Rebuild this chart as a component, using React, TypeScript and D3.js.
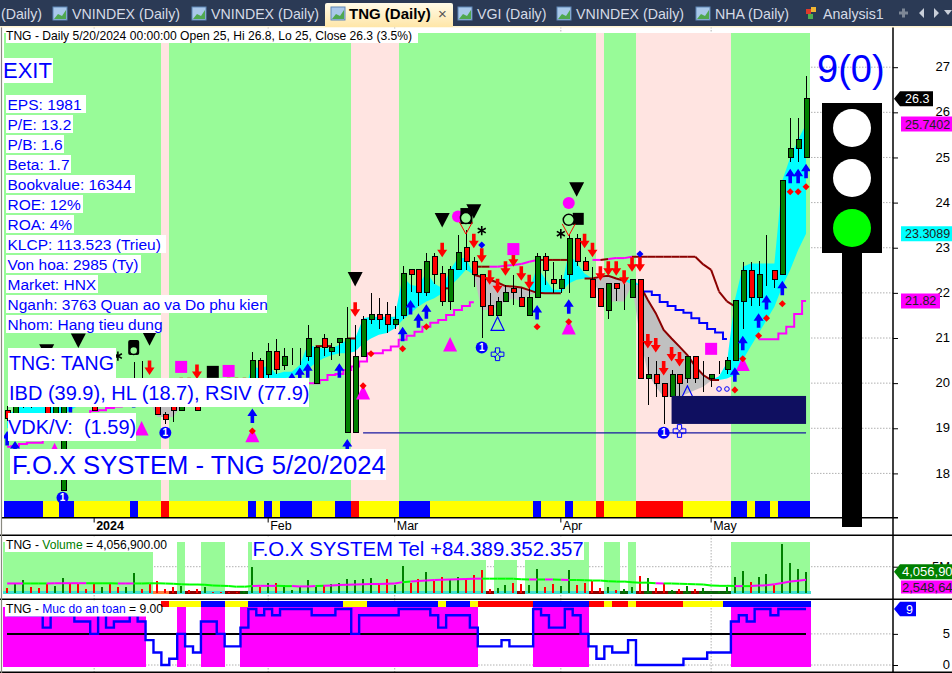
import React, { useEffect, useRef } from 'react';
import * as d3 from 'd3';

const WIDTH = 952;
const HEIGHT = 673;
const BAR_COUNT = 102;

// candles. the ones under the white labels are estimates
const opens = [
  19.4, 19.33, 19.7, 19.9, 19.9, 20.14, 19.33, 17.63, 19.8, 20,
  20.1, 20.14, 19.6, 20.14, 20, 19.7, 19.8, 20, 20, 19.9,
  19.3, 19.48, 19.39, 19.9, 19.6, 19.6, 19.9, 19.8, 19.8, 19.8,
  19.7, 20, 20.5, 20.2, 20.7, 20.4, 20.6, 20.6, 20.6, 20,
  20.99, 20.7, 20.9, 18.9, 18.9, 20.59, 21.41, 21.51, 21.51, 21.3,
  21.49, 22.51, 22.51, 22, 22.81, 22.42, 21.8, 22.51, 23.01, 22.7,
  22.4, 21.71, 21.5, 21.81, 22.1, 21.9, 21.5, 21.9, 22.81, 22.3,
  22.1, 22.4, 23.2, 22.7, 22.3, 22.1, 21.62, 22.21, 21.9, 21.9,
  22.3, 20.1, 20.2, 20, 19.7, 20.2, 20.1, 20.6, 20.1, 20.1,
  20.2, 20.3, 20.5, 21.8, 22.49, 21.9, 22.5, 22.49, 22.4, 25, 25.2, 25,
];
const highs = [
  19.5, 19.7, 20, 20, 20, 20.2, 19.9, 19.9, 20, 20.1,
  20.2, 20.2, 20, 20.2, 20.1, 20.1, 20.46, 20.5, 20.1, 20,
  19.35, 19.7, 19.8, 20, 19.8, 20, 20, 20, 20.1, 20.1,
  20, 20.68, 20.55, 20.9, 20.97, 20.78, 20.78, 20.78, 21.28, 20.83,
  21.09, 20.88, 20.99, 21.68, 21.29, 21.49, 21.99, 21.88, 21.79, 21.7,
  22.6, 22.51, 22.51, 22.88, 22.88, 22.6, 22.6, 23.28, 23.4, 22.79,
  22.4, 21.99, 21.9, 22.18, 22.39, 22.1, 22.1, 22.88, 22.88, 22.69,
  22.4, 23.3, 23.3, 22.79, 22.58, 22.1, 22.21, 22.21, 22.2, 22.3,
  22.3, 20.59, 20.5, 20, 20.3, 20.2, 20.6, 20.6, 20.5, 20.2,
  20.5, 20.59, 21.82, 22.68, 22.68, 22.7, 23.28, 22.5, 24.5, 25.87, 25.87, 26.8,
];
const lows = [
  19.15, 19.2, 19.45, 19.45, 19.5, 19.33, 19.3, 17.63, 19.5, 19.7,
  19.7, 19.39, 19.5, 19.5, 19.6, 19.6, 19.6, 19.6, 19.55, 19.3,
  19.1, 19.13, 19.39, 19.5, 19.39, 19.55, 19.6, 19.6, 19.6, 19.6,
  19.6, 19.9, 19.95, 20.1, 20.2, 20.3, 20.4, 20.4, 20.5, 20,
  20.6, 20.51, 20.6, 18.9, 18.9, 20.59, 21.31, 21.2, 21.1, 21.2,
  21.43, 22.03, 21.71, 21.92, 22.2, 21.72, 21.62, 22.51, 22.5, 22.12,
  21, 21.5, 21.5, 21.81, 21.73, 21.7, 21.5, 21.9, 22.18, 22,
  22, 22, 22.6, 22.5, 21.9, 21.7, 21.42, 21.83, 21.62, 21.9,
  20.1, 19.52, 19.7, 19.1, 19.7, 19.7, 20, 20, 19.8, 19.92,
  20.2, 20.2, 20.5, 21.2, 21.71, 21.7, 22.15, 22.1, 22.4, 24.9, 24.9, 25,
];
const closes = [
  19.22, 19.48, 19.8, 19.7, 19.7, 19.33, 19.8, 19.6, 19.55, 19.8,
  19.9, 19.39, 19.9, 19.6, 19.8, 20, 20, 19.8, 19.7, 19.3,
  19.2, 19.39, 19.48, 19.7, 19.39, 19.9, 19.7, 19.7, 19.7, 19.7,
  19.9, 20.5, 20.1, 20.7, 20.3, 20.6, 20.6, 20.6, 21, 20.8,
  20.79, 20.79, 20.99, 20.99, 20.6, 21.42, 21.51, 21.41, 21.3, 21.41,
  22.42, 22.41, 22, 22.7, 22.4, 21.8, 22.51, 22.9, 22.69, 22.4,
  21.7, 21.5, 21.81, 22, 22, 21.7, 21.9, 22.81, 22.5, 22.2,
  22.3, 23.2, 22.69, 22.5, 21.9, 21.7, 22.21, 22.1, 21.9, 22.3,
  20.1, 20.2, 20, 19.7, 20.2, 20, 20.6, 20.1, 20.1, 20.2,
  20.2, 20.5, 21.82, 22.49, 21.9, 22.4, 22.5, 22.3, 24.49, 25.2, 25.4, 26.3,
];

// the two edges of the cloud: cyan when fast is above slow, grey when below
const cloudSlow = [
  19, 19.05, 19.1, 19.15, 19.2, 19.25, 19.3, 19.3, 19.4, 19.5,
  19.55, 19.6, 19.7, 19.7, 19.7, 19.7, 19.7, 19.7, 19.6, 19.6,
  19.6, 19.6, 19.5, 19.8, 19.8, 19.8, 19.8, 19.8, 19.8, 19.8,
  19.8, 19.9, 20, 20, 20.05, 20.1, 20.15, 20.2, 20.3, 20.45,
  20.55, 20.62, 20.66, 20.66, 20.7, 20.88, 20.99, 21.07, 21.11, 21.21,
  21.4, 21.55, 21.7, 21.81, 21.88, 21.99, 22.14, 22.32, 22.51, 22.4,
  22.35, 22.29, 22.23, 22.15, 22.14, 22.12, 22.06, 22, 21.99, 21.99,
  21.99, 22.21, 22.29, 22.32, 22.32, 22.36, 22.38, 22.32, 22.27, 22.18,
  22.17, 21.84, 21.55, 21.18, 20.99, 20.81, 20.62, 20.37, 20.18, 20.07,
  20.07, 20.1, 20.18, 20.51, 20.81, 21.1, 21.4, 21.69, 22.14, 22.51, 22.95, 23.31,
];
const cloudFast = [
  19.3, 19.4, 19.6, 19.7, 19.7, 19.7, 19.7, 19.6, 19.6, 19.6,
  19.6, 19.6, 19.7, 19.7, 19.7, 19.7, 19.7, 19.7, 19.65, 19.25,
  19.25, 19.25, 19.5, 19.8, 19.8, 19.8, 19.8, 19.8, 19.8, 19.8,
  19.8, 20.4, 20.3, 20.4, 20.2, 20.25, 20.25, 20.4, 20.85, 20.8,
  20.77, 20.77, 20.85, 20.96, 20.99, 21.44, 21.47, 21.47, 21.47, 21.47,
  22.36, 22.18, 22.14, 22.47, 22.21, 22.1, 22.51, 22.77, 22.77, 22.4,
  21.62, 21.62, 21.7, 21.81, 21.88, 21.81, 21.95, 22.58, 22.32, 22.07,
  22.07, 22.88, 22.66, 22.43, 22.32, 21.92, 21.81, 21.81, 21.81, 22.3,
  21.03, 20.22, 19.92, 19.7, 19.7, 19.7, 19.77, 19.85, 19.92, 20.06,
  20.15, 20.45, 21.84, 22.58, 22.65, 22.65, 22.65, 22.65, 24.49, 25, 25.39, 25.74,
];
const slowLineRuns: [number, number][] = [[59, 71], [73, 79], [80, 91]];

// rising pink support line
const supportLine = [
  18.59, 18.6, 18.65, 18.68, 18.68, 18.8, 18.9, 19, 19.1, 19.2,
  19.3, 19.38, 19.4, 19.45, 19.48, 19.5, 19.55, 19.6, 19.62, 19.65,
  19.65, 19.68, 19.7, 19.72, 19.72, 19.75, 19.75, 19.78, 19.78, 19.8,
  19.8, 19.82, 19.85, 19.85, 19.9, 19.9, 19.95, 19.95, 20, 20,
  20.07, 20.18, 20.2, 20.29, 20.37, 20.48, 20.66, 20.66, 20.73, 20.81,
  20.96, 21.05, 21.14, 21.25, 21.34, 21.4, 21.51, 21.62, 21.71, 21.79,
];
const supportTail = [20.97, 20.97, 20.97, 21.1, 21.25, 21.53, 21.82];
const SUPPORT_TAIL_START = 95;

// upper line, dark red or pink, with gaps
const upperStart = 39;
const upperLine: (number | null)[] = [
  20.82, 20.82, 20.82, null, 20.99, 20.99, null, null, null, null,
  null, null, null, null, null, null, 22.1, 22.1, null, null,
  22.58, 22.58, 22.58, 22.58, 22.6, 22.62, 22.64, 22.69, 22.73, 22.73,
  22.73, 22.73, 22.73, null, null, 22.73, 22.73, 22.75, 22.77, 22.77,
  22.8, 22.8, 22.8, 22.8, 22.8, 22.8, 22.8, 22.8, 22.8, 22.63,
  22.51, 22.03, 21.81, 21.7,
];
const upperColorRuns: [string, number][] = [['#8b0000', 61], ['#ff00ff', 6], ['#8b0000', 7], ['#ff00ff', 1], ['#8b0000', 1], ['#ff00ff', 3], ['#8b0000', 23]];

// blue stop line after the April break
const stopStart = 80;
const stopLine = [22.03, 22.03, 21.95, 21.8, 21.71, 21.62, 21.56, 21.44, 21.33, 21.2, 21.12, 20.98];

const regimeRuns: [string, number][] = [['g', 20], ['p', 1], ['g', 23], ['p', 6], ['g', 25], ['p', 1], ['g', 4], ['p', 12], ['g', 10]];
const stripRuns: [string, number][] = [
  ['b', 5], ['y', 2], ['b', 2], ['y', 7], ['b', 1], ['y', 3], ['r', 1], ['y', 10], ['b', 1], ['y', 1], ['b', 1], ['y', 1],
  ['b', 4], ['y', 3], ['b', 2], ['r', 1], ['y', 5], ['b', 4], ['y', 13], ['b', 1], ['y', 3], ['b', 1], ['y', 3], ['r', 1],
  ['y', 4], ['r', 6], ['y', 6], ['b', 2], ['y', 1], ['b', 2], ['y', 1], ['b', 4],
];
const safetyStripRuns: [string, number][] = [
  ['n', 20], ['r', 1], ['y', 4], ['b', 3], ['y', 3], ['b', 12], ['y', 3], ['b', 9], ['y', 1], ['b', 3], ['y', 1], ['r', 7],
  ['b', 7], ['r', 2], ['y', 1], ['r', 2], ['y', 1], ['r', 6], ['y', 5], ['b', 11],
];
const stripColor: Record<string, string> = { b: '#0000ff', y: '#ffff00', r: '#ff0000' };

// signals: bar index + price
const upArrowBars = [0, 1, 8, 16, 31, 36, 37, 38, 42, 43, 50, 51, 52, 53, 67, 71, 92, 93, 95, 96, 98, 99, 100, 101];
const upArrowPrices = [18.94, 18.72, 19.67, 19.78, 19.44, 20.23, 20.35, 20.44, 20.44, 18.76, 21.25, 21.84, 21.55, 21.75, 21.73, 21.86, 20.35, 21.05, 21.55, 21.95, 22.27, 24.75, 24.75, 24.86];
const downArrowBars = [5, 11, 13, 18, 22, 23, 24, 28, 29, 30, 44, 55, 59, 60, 61, 62, 63, 64, 65, 66, 73, 74, 75, 76, 77, 78, 79, 80, 81, 82, 83, 84, 85];
const downArrowPrices = [19.8, 19.8, 19.8, 20.18, 19.8, 19.8, 20.09, 19.8, 19.8, 19.8, 21.47, 22.79, 22.99, 22.67, 22.18, 21.99, 22.38, 22.58, 22.27, 22.08, 22.99, 22.79, 22.27, 22.38, 22.38, 22.18, 22.47, 22.47, 20.77, 20.68, 20.17, 20.48, 20.37];
const sellBars = [5, 9, 18, 44, 55, 59, 72];
const sellPrices = [20.54, 20.78, 20.83, 22.14, 23.45, 23.64, 24.13];
const buyTriBars = [6, 17, 31, 45, 56, 71, 93];
const buyTriPrices = [18.68, 19.16, 19.01, 19.96, 21.02, 21.4, 20.59];
const redDotBars = [31, 45, 46, 50, 53, 67, 71, 92, 93, 95, 96, 98, 99, 100, 101];
const redDotPrices = [18.94, 19.94, 20.65, 20.76, 21.25, 21.25, 21.36, 19.85, 20.54, 21.05, 21.44, 21.76, 24.24, 24.24, 24.35];
const blueDotBars = [60, 80];
const blueDotPrices = [23.06, 22.86];
const pinkSquareBars = [22, 28, 64, 89];
const pinkSquarePrices = [20.36, 20.27, 22.97, 20.76];
const blackSquareBars = [26];
const blackSquarePrices = [20.25];
const pinkCircleBars = [57, 71];
const pinkCirclePrices = [23.69, 23.99];
const faceBars = [58, 71];
const facePrices = [23.68, 23.64];
const starBars = [14, 60, 70];
const starPrices = [20.6, 23.38, 23.31];
const oneBars = [7, 20, 60, 83];
const onePrices = [17.46, 18.9, 20.79, 18.9];
const snowBars = [62, 85];
const snowPrices = [20.64, 18.94];
const hollowTriBars = [62, 86];
const hollowTriPrices = [21.47, 19.94];
const ringBars = [90, 91];
const ringPrices = [19.87, 19.87];
const FLOOR_PRICE = 18.9;
const BOX_TOP = 19.716;
const BOX_BOTTOM = 19.096;

const volumes = [
  0.94, 1.75, 2.51, 1.13, 0.94, 1.75, 1.38, 2.82, 1.88, 1.75,
  0.88, 1.88, 1.13, 1.88, 1.25, 1.25, 3.76, 0.88, 1.75, 2.26,
  0.88, 1.13, 1.38, 0.63, 0.88, 1.13, 0.31, 0.25, 0.19, 0.25,
  0.5, 4.89, 1.13, 1.88, 1.88, 1.5, 0.63, 1.25, 2.51, 1.13,
  1.5, 1.75, 1.88, 2.63, 2.51, 2.76, 2.82, 2, 2.63, 1.57,
  5.14, 2, 2.63, 4.01, 2.38, 3.01, 2.63, 3.01, 2.63, 3.45,
  4.39, 0.75, 1, 1.57, 2, 1.75, 1.57, 4.51, 1.13, 1.75,
  1.38, 4.39, 1.57, 1.88, 2.26, 0.94, 1.13, 0.63, 0.81, 1.25,
  3.26, 2.88, 1, 2, 0.63, 0.81, 1.38, 0.75, 0.94, 0.31,
  0.38, 1.25, 3.01, 4.2, 2.13, 3.01, 3.63, 1.57, 9.27, 5.64, 4.51, 4.06,
];
const volumeMA = [
  1.85, 1.85, 1.85, 1.85, 1.85, 1.85, 1.88, 1.9, 1.9, 1.9,
  1.9, 1.88, 1.88, 1.88, 1.85, 1.85, 1.85, 1.85, 1.88, 1.88,
  1.85, 1.8, 1.7, 1.65, 1.65, 1.6, 1.45, 1.4, 1.35, 1.25,
  1.25, 1.35, 1.4, 1.4, 1.4, 1.35, 1.35, 1.3, 1.3, 1.35,
  1.4, 1.45, 1.55, 1.6, 1.65, 1.7, 1.75, 1.75, 1.8, 1.85,
  2.1, 2.2, 2.3, 2.4, 2.5, 2.55, 2.6, 2.65, 2.7, 2.75,
  2.75, 2.75, 2.75, 2.75, 2.75, 2.65, 2.6, 2.6, 2.6, 2.6,
  2.55, 2.5, 2.5, 2.45, 2.4, 2.4, 2.25, 2.2, 2.2, 2.1,
  2, 2, 1.9, 1.85, 1.85, 1.8, 1.75, 1.7, 1.65, 1.45,
  1.4, 1.4, 1.35, 1.35, 1.35, 1.45, 1.5, 1.7, 1.95, 2.2, 2.35, 2.55,
];
const volumeMARuns: [string, number][] = [
  ['#ff00ff', 2], ['#00ff00', 3], ['#ff00ff', 5], ['#00ff00', 4], ['#ff00ff', 2], ['#00ff00', 15], ['#ff00ff', 3], ['#00ff00', 2],
  ['#ff00ff', 3], ['#00ff00', 1], ['#ff00ff', 10], ['#00ff00', 1], ['#ff00ff', 9], ['#00ff00', 6], ['#ff00ff', 1], ['#00ff00', 1],
  ['#ff00ff', 1], ['#00ff00', 1], ['#ff00ff', 1], ['#00ff00', 11], ['#ff00ff', 1], ['#00ff00', 9], ['#ff00ff', 1], ['#00ff00', 1], ['#ff00ff', 8],
];
const volumeGreenSpans: [number, number][] = [[0, 19], [22, 23], [25, 28], [31, 61], [62, 65], [66, 74], [76, 78], [79, 80], [92, 102]];

const safety = [
  8, 8, 8, 8, 8, 6, 8, 8, 8, 7,
  7, 5, 9, 6, 7, 7, 8, 7, 4, 2,
  0, 1, 5, 3, 2, 7, 7, 5, 3, 3,
  6, 9, 8, 9, 8, 9, 9, 9, 9, 8,
  8, 8, 9, 9, 5, 8, 8, 8, 8, 8,
  9, 9, 9, 9, 8, 6, 8, 8, 8, 6,
  3, 3, 3, 4, 3, 3, 3, 9, 8, 6,
  6, 9, 8, 5, 3, 1, 3, 2, 2, 4,
  0, 0, 0, 0, 0, 0, 1, 1, 1, 2,
  2, 2, 7, 8, 7, 9, 9, 8, 9, 9, 9, 9,
];

const priceTicks = [18, 19, 20, 21, 22, 23, 24, 25, 26, 27];
const monthTickBars = [11, 33, 49, 70, 89];
const monthTickLabels = ['2024', 'Feb', 'Mar', 'Apr', 'May'];

const fundamentals = [
  'EPS: 1981', 'P/E: 13.2', 'P/B: 1.6', 'Beta: 1.7', 'Bookvalue: 16344', 'ROE: 12%', 'ROA: 4%', 'KLCP: 113.523 (Trieu)',
  'Von hoa: 2985 (Ty)', 'Market: HNX', 'Nganh: 3763 Quan ao va Do phu kien', 'Nhom: Hang tieu dung',
];
const tabNames = ['VNINDEX (Daily)', 'VNINDEX (Daily)', 'VGI (Daily)', 'VNINDEX (Daily)', 'NHA (Daily)'];
const tabTextX = [72, 211, 477, 576, 715];

const FONT = '"Liberation Sans", Arial, sans-serif';

const expand = <T,>(runs: [T, number][]): T[] => runs.flatMap(([v, n]) => d3.range(n).map(() => v));

const App = () => {
  const svgRef = useRef<SVGSVGElement>(null);

  useEffect(() => {
    const svg = d3.select(svgRef.current);
    svg.selectAll('*').remove();

    const x = d3.scaleBand<number>().domain(d3.range(BAR_COUNT)).range([3.18, 810]);
    const bw = x.bandwidth();
    const cx = (i: number) => (x(i) as number) + bw / 2;
    const y = d3.scaleLinear().domain([18, 27]).range([473.4, 67.2]);
    const volY = d3.scaleLinear().domain([0, 5]).range([593.3, 566.7]);
    const safeY = d3.scaleLinear().domain([0, 9]).range([665, 609]);

    const bars = d3.range(BAR_COUNT);
    const regime = expand(regimeRuns);
    const strip = expand(stripRuns);
    const safetyStrip = expand(safetyStripRuns);
    const maColor = expand(volumeMARuns);
    const upperColor = expand(upperColorRuns);

    svg.append('rect').attr('width', WIDTH).attr('height', HEIGHT).attr('fill', '#fff');

    // dotted grid first, the shading sits on top of it
    const grid = svg.append('g').attr('stroke', '#b0b0b0').attr('stroke-dasharray', '1.5 1.5');
    priceTicks.forEach((t) => grid.append('line').attr('x1', 4).attr('x2', 893).attr('y1', y(t)).attr('y2', y(t)));
    [5].forEach((t) => grid.append('line').attr('x1', 4).attr('x2', 893).attr('y1', volY(t)).attr('y2', volY(t)));
    [0, 5].forEach((t) => grid.append('line').attr('x1', 4).attr('x2', 893).attr('y1', safeY(t)).attr('y2', safeY(t)));
    monthTickBars.forEach((b) => {
      [[27, 517], [535, 599], [599, 672]].forEach(([a, c]) =>
        grid.append('line').attr('x1', cx(b)).attr('x2', cx(b)).attr('y1', a).attr('y2', c));
    });

    // main panel
    const clip = svg.append('defs').append('clipPath').attr('id', 'main-clip');
    clip.append('rect').attr('x', 4).attr('y', 33).attr('width', 806).attr('height', 484);
    const main = svg.append('g').attr('clip-path', 'url(#main-clip)');

    main.append('g').attr('shape-rendering', 'crispEdges').selectAll('rect').data(bars).join('rect')
      .attr('x', (i) => x(i) as number).attr('width', bw + 0.5).attr('y', 33).attr('height', 468)
      .attr('fill', (i) => (regime[i] === 'g' ? '#98fb98' : '#ffe4e1'));
    main.append('g').attr('shape-rendering', 'crispEdges').selectAll('rect').data(bars).join('rect')
      .attr('x', (i) => x(i) as number).attr('width', bw + 0.5).attr('y', 501).attr('height', 16.5)
      .attr('fill', (i) => stripColor[strip[i]]);

    const cyanArea = d3.area<number>().x(cx).y0((i) => y(cloudSlow[i])).y1((i) => y(Math.max(cloudFast[i], cloudSlow[i])));
    const grayArea = d3.area<number>().x(cx).y0((i) => y(cloudSlow[i])).y1((i) => y(Math.min(cloudFast[i], cloudSlow[i])));
    main.append('path').attr('d', cyanArea(bars)).attr('fill', '#00ffff');
    main.append('path').attr('d', grayArea(bars)).attr('fill', '#c0c0c0');

    // floor line
    main.append('line').attr('x1', cx(45)).attr('x2', cx(101)).attr('y1', y(FLOOR_PRICE)).attr('y2', y(FLOOR_PRICE))
      .attr('stroke', '#1a1aa0').attr('stroke-width', 1.2);

    const support = d3.line<number>().curve(d3.curveStep).x((_, i) => cx(i)).y((v) => y(v));
    main.append('path').attr('d', support(supportLine)).attr('fill', 'none').attr('stroke', '#ff00ff').attr('stroke-width', 2);
    const tail = d3.line<number>().curve(d3.curveStep).x((_, i) => cx(i + SUPPORT_TAIL_START)).y((v) => y(v));
    main.append('path').attr('d', tail(supportTail)).attr('fill', 'none').attr('stroke', '#ff00ff').attr('stroke-width', 2);

    const slowLine = d3.line<number>().x(cx).y((i) => y(cloudSlow[i]));
    slowLineRuns.forEach(([a, b]) => {
      main.append('path').attr('d', slowLine(d3.range(a, b)))
        .attr('fill', 'none').attr('stroke', '#8b0000').attr('stroke-width', 2);
    });

    upperLine.forEach((v, k) => {
      const next = upperLine[k + 1];
      if (v == null || next == null) return;
      const i = k + upperStart;
      main.append('line').attr('x1', cx(i)).attr('x2', cx(i + 1)).attr('y1', y(v)).attr('y2', y(next))
        .attr('stroke', upperColor[i]).attr('stroke-width', 2);
    });

    const stop = d3.line<number>().curve(d3.curveStep).x((_, i) => cx(i + stopStart)).y((v) => y(v));
    main.append('path').attr('d', stop(stopLine)).attr('fill', 'none').attr('stroke', '#0000ff').attr('stroke-width', 2);

    // candles
    const candle = main.append('g').selectAll('g').data(bars).join('g');
    candle.append('line')
      .attr('x1', (i) => Math.round(cx(i)) + 0.5).attr('x2', (i) => Math.round(cx(i)) + 0.5)
      .attr('y1', (i) => y(highs[i])).attr('y2', (i) => y(lows[i]))
      .attr('stroke', '#000').attr('shape-rendering', 'crispEdges');
    candle.append('rect')
      .attr('x', (i) => Math.round(cx(i)) - 2)
      .attr('width', 5)
      .attr('y', (i) => y(Math.max(opens[i], closes[i])))
      .attr('height', (i) => Math.abs(y(opens[i]) - y(closes[i])))
      .attr('fill', (i) => (closes[i] >= opens[i] ? '#008000' : '#ff0000'))
      .attr('stroke', '#000').attr('shape-rendering', 'crispEdges');

    // signals
    const marks = main.append('g');
    const arrow = (c: number, tip: number, dir: number) => {
      const p = d3.path();
      p.moveTo(c, tip);
      p.lineTo(c + 5, tip + dir * 7.5);
      p.lineTo(c + 1.8, tip + dir * 7.5);
      p.lineTo(c + 1.8, tip + dir * 14.5);
      p.lineTo(c - 1.8, tip + dir * 14.5);
      p.lineTo(c - 1.8, tip + dir * 7.5);
      p.lineTo(c - 5, tip + dir * 7.5);
      p.closePath();
      return p.toString();
    };
    const tri = (c: number, apex: number, dir: number, w: number, h: number) => {
      const p = d3.path();
      p.moveTo(c, apex);
      p.lineTo(c + w, apex + dir * h);
      p.lineTo(c - w, apex + dir * h);
      p.closePath();
      return p.toString();
    };
    const sym = (type: d3.SymbolType, size: number) => d3.symbol().type(type).size(size)();

    buyTriBars.forEach((b, k) => marks.append('path').attr('d', tri(cx(b), y(buyTriPrices[k]), 1, 7, 14.5)).attr('fill', '#ff00ff'));
    upArrowBars.forEach((b, k) => marks.append('path').attr('d', arrow(cx(b), y(upArrowPrices[k]), 1)).attr('fill', '#0000ff'));
    downArrowBars.forEach((b, k) => marks.append('path').attr('d', arrow(cx(b), y(downArrowPrices[k]), -1)).attr('fill', '#ff0000'));
    sellBars.forEach((b, k) => marks.append('path').attr('d', tri(cx(b), y(sellPrices[k]), -1, 7.5, 14.5)).attr('fill', '#000'));
    redDotBars.forEach((b, k) => marks.append('path').attr('transform', `translate(${cx(b)},${y(redDotPrices[k])}) rotate(45)`).attr('d', sym(d3.symbolSquare, 25)).attr('fill', '#ff0000'));
    blueDotBars.forEach((b, k) => marks.append('path').attr('transform', `translate(${cx(b)},${y(blueDotPrices[k])}) rotate(45)`).attr('d', sym(d3.symbolSquare, 25)).attr('fill', '#0000ff'));
    pinkSquareBars.forEach((b, k) => marks.append('rect').attr('x', cx(b) - 6).attr('y', y(pinkSquarePrices[k]) - 6).attr('width', 12).attr('height', 12).attr('fill', '#ff00ff'));
    blackSquareBars.forEach((b, k) => marks.append('rect').attr('x', cx(b) - 6).attr('y', y(blackSquarePrices[k]) - 6).attr('width', 12).attr('height', 12).attr('fill', '#000'));
    pinkCircleBars.forEach((b, k) => marks.append('circle').attr('cx', cx(b)).attr('cy', y(pinkCirclePrices[k])).attr('r', 6).attr('fill', '#ff00ff'));

    faceBars.forEach((b, k) => {
      const c = cx(b);
      const fy = y(facePrices[k]);
      marks.append('rect').attr('x', k === 0 ? c - 5.5 : c + 4).attr('y', k === 0 ? fy - 9 : fy - 6).attr('width', k === 0 ? 12 : 11).attr('height', k === 0 ? 16 : 12).attr('fill', '#000');
      marks.append('circle').attr('cx', c).attr('cy', fy + 1).attr('r', 5.5).attr('fill', '#98fb98').attr('stroke', '#000').attr('stroke-width', 1.5);
      marks.append('path').attr('d', `M${c - 6.5},${fy + 5}L${c},${fy + 17}L${c + 6.5},${fy + 5}`).attr('fill', 'none').attr('stroke', '#ff0000');
    });

    // the capsule face in January
    const capsuleX = cx(16);
    marks.append('rect').attr('x', capsuleX - 5.5).attr('y', y(20.78) - 8).attr('width', 11).attr('height', 15).attr('rx', 2).attr('fill', '#000');
    marks.append('circle').attr('cx', capsuleX).attr('cy', y(20.78) + 2.5).attr('r', 4).attr('fill', '#98fb98').attr('stroke', '#000').attr('stroke-width', 1.5);

    starBars.forEach((b, k) => marks.append('path').attr('transform', `translate(${cx(b)},${y(starPrices[k])})`).attr('d', sym(d3.symbolAsterisk, 60)).attr('fill', 'none').attr('stroke', '#000').attr('stroke-width', 1.6));
    oneBars.forEach((b, k) => {
      marks.append('circle').attr('cx', cx(b)).attr('cy', y(onePrices[k])).attr('r', 6).attr('fill', '#0000ff');
      marks.append('text').attr('x', cx(b)).attr('y', y(onePrices[k]) + 3.5).attr('text-anchor', 'middle').attr('font-family', FONT).attr('font-size', 10).attr('font-weight', 'bold').attr('fill', '#fff').text('1');
    });
    snowBars.forEach((b, k) => {
      const t = `translate(${cx(b)},${y(snowPrices[k])})`;
      marks.append('path').attr('transform', t).attr('d', sym(d3.symbolCross, 90)).attr('fill', 'none').attr('stroke', '#0000ff');
      marks.append('path').attr('transform', t).attr('d', sym(d3.symbolTimes, 30)).attr('fill', 'none').attr('stroke', '#0000ff');
    });
    hollowTriBars.forEach((b, k) => marks.append('path').attr('d', tri(cx(b), y(hollowTriPrices[k]), 1, 6.5, 13.5)).attr('fill', 'none').attr('stroke', '#0000ff').attr('stroke-width', 1.2));
    ringBars.forEach((b, k) => marks.append('circle').attr('cx', cx(b)).attr('cy', y(ringPrices[k])).attr('r', 2.3).attr('fill', 'none').attr('stroke', '#0000ff'));

    // navy box at the bottom right of the price area
    main.append('rect').attr('x', cx(84)).attr('width', cx(101) - cx(84)).attr('y', y(BOX_TOP)).attr('height', y(BOX_BOTTOM) - y(BOX_TOP)).attr('fill', '#0f0f60');

    // labels with a white box behind them
    const label = (lx: number, top: number, w: number, h: number, txt: string, size: number, tx = lx + 1) => {
      svg.append('rect').attr('x', lx).attr('y', top).attr('width', w).attr('height', h).attr('fill', '#fff');
      svg.append('text').attr('x', tx).attr('y', top + h / 2 + size * 0.36).attr('font-family', FONT).attr('font-size', size).attr('fill', '#0000ff').style('white-space', 'pre').text(txt);
    };
    label(3, 58, 50, 25, 'EXIT', 22, 3);
    const infoWidths = [80, 67, 58, 65, 129, 77, 68, 160, 135, 92, 261, 155];
    fundamentals.forEach((t, k) => label(6, 95 + k * 20, infoWidths[k], 18, t, 15.5, 7.5));
    label(8, 348, 108, 30, 'TNG: TANG', 19.6, 9);
    label(8, 378, 301, 29, 'IBD (39.9), HL (18.7), RSIV (77.9)', 20, 9);
    label(8, 413, 128, 28, 'VDK/V:  (1.59)', 20, 8);
    label(10, 449, 376, 31, 'F.O.X SYSTEM - TNG 5/20/2024', 25.6, 12);

    // header line
    svg.append('rect').attr('x', 6).attr('y', 29).attr('width', 412).attr('height', 14).attr('fill', '#fff');
    svg.append('text').attr('x', 6).attr('y', 40).attr('font-family', FONT).attr('font-size', 12.1).attr('fill', '#000')
      .text('TNG - Daily 5/20/2024 00:00:00 Open 25, Hi 26.8, Lo 25, Close 26.3 (3.5%)');

    // traffic light
    svg.append('text').attr('x', 817).attr('y', 82).attr('font-family', FONT).attr('font-size', 38).attr('fill', '#0000ff').text('9(0)');
    svg.append('rect').attr('x', 842).attr('y', 250).attr('width', 20).attr('height', 277).attr('fill', '#000');
    svg.append('rect').attr('x', 822).attr('y', 103).attr('width', 60).attr('height', 150).attr('fill', '#000');
    ['#ffffff', '#ffffff', '#00ff00'].forEach((c, k) => svg.append('circle').attr('cx', 852).attr('cy', 128 + k * 50).attr('r', 19).attr('fill', c));

    // volume panel
    const vol = svg.append('g');
    vol.selectAll('rect.z').data(volumeGreenSpans).join('rect').attr('class', 'z')
      .attr('x', (d) => x(d[0]) as number).attr('width', (d) => (d[1] - d[0]) * bw).attr('y', 542).attr('height', 51.5).attr('fill', '#98fb98').attr('shape-rendering', 'crispEdges');
    const inGreen = (i: number) => volumeGreenSpans.some(([a, b]) => i >= a && i < b);
    vol.selectAll('rect.b').data(bars).join('rect').attr('class', 'b')
      .attr('x', (i) => x(i) as number).attr('width', bw + 0.5).attr('y', 591).attr('height', 2.7).attr('shape-rendering', 'crispEdges')
      .attr('fill', (i) => (inGreen(i) ? '#40e0d0' : i === 19 || i === 20 ? '#ff8040' : closes[i] >= opens[i] ? '#0b5f0b' : '#8b0000'));
    vol.selectAll('rect.v').data(bars).join('rect').attr('class', 'v')
      .attr('x', (i) => Math.round(cx(i)) - 1).attr('width', 2).attr('y', (i) => volY(volumes[i])).attr('height', (i) => volY(0) - volY(volumes[i]))
      .attr('fill', (i) => (closes[i] >= opens[i] ? '#008000' : '#ff0000')).attr('shape-rendering', 'crispEdges');
    bars.slice(0, -1).forEach((i) => {
      vol.append('line').attr('x1', cx(i)).attr('x2', cx(i + 1)).attr('y1', volY(volumeMA[i])).attr('y2', volY(volumeMA[i + 1])).attr('stroke', maColor[i]).attr('stroke-width', 2);
    });

    svg.append('rect').attr('x', 5).attr('y', 537).attr('width', 164).attr('height', 15).attr('fill', '#fff');
    const volText = svg.append('text').attr('x', 6).attr('y', 549).attr('font-family', FONT).attr('font-size', 12.1).attr('fill', '#000');
    volText.append('tspan').text('TNG - ');
    volText.append('tspan').attr('fill', '#008000').text('Volume');
    volText.append('tspan').text(' = 4,056,900.00');
    label(252, 538, 332, 22, 'F.O.X SYSTEM Tel +84.389.352.357', 20.4, 252.5);

    // safety panel
    const safe = svg.append('g');
    safe.selectAll('rect.m').data(bars.filter((i) => safety[i] >= 5)).join('rect').attr('class', 'm')
      .attr('x', (i) => x(i) as number).attr('width', bw + 0.5).attr('y', 606.7).attr('height', 60).attr('fill', '#ff00ff').attr('shape-rendering', 'crispEdges');
    safe.selectAll('rect.s').data(bars.filter((i) => safetyStrip[i] !== 'n')).join('rect').attr('class', 's')
      .attr('x', (i) => x(i) as number).attr('width', bw + 0.5).attr('y', 600.7).attr('height', 6).attr('fill', (i) => stripColor[safetyStrip[i]]).attr('shape-rendering', 'crispEdges');
    safe.append('line').attr('x1', 7).attr('x2', 806).attr('y1', safeY(5)).attr('y2', safeY(5)).attr('stroke', '#000').attr('stroke-width', 2);
    const safeLine = d3.line<number>().curve(d3.curveStep).x(cx).y((i) => safeY(safety[i]));
    safe.append('path').attr('d', safeLine(bars)).attr('fill', 'none').attr('stroke', '#0000ff').attr('stroke-width', 2.4);
    svg.append('rect').attr('x', 5).attr('y', 601).attr('width', 156).attr('height', 15.5).attr('fill', '#fff');
    const safeText = svg.append('text').attr('x', 6).attr('y', 613).attr('font-family', FONT).attr('font-size', 12.1).attr('fill', '#000');
    safeText.append('tspan').text('TNG - ');
    safeText.append('tspan').attr('fill', '#0000ff').text('Muc do an toan');
    safeText.append('tspan').text(' = 9.00');

    // axes
    const styleAxis = (g: any) => {
      g.select('.domain').remove();
      g.selectAll('line').attr('stroke', '#000');
      g.selectAll('text').attr('font-family', FONT).attr('font-size', 13).attr('fill', '#000').attr('text-anchor', 'end').attr('x', 57).attr('dy', '0.28em');
    };
    svg.append('g').attr('transform', 'translate(893,0)').call(d3.axisRight(y).tickValues(priceTicks).tickSize(5).tickFormat(d3.format('d')) as any).call(styleAxis);
    svg.append('g').attr('transform', 'translate(893,0)').call(d3.axisRight(volY).tickValues([5]).tickSize(5).tickFormat((d) => `${d}M`) as any).call(styleAxis);
    svg.append('g').attr('transform', 'translate(893,0)').call(d3.axisRight(safeY).tickValues([0, 5]).tickSize(5).tickFormat(d3.format('d')) as any).call(styleAxis);

    const xAxis = d3.axisBottom(x).tickValues(monthTickBars).tickSize(5).tickFormat((_, k) => monthTickLabels[k]);
    const xg = svg.append('g').attr('transform', 'translate(0,517.5)').call(xAxis as any);
    xg.select('.domain').remove();
    xg.selectAll('line').attr('stroke', '#000');
    xg.selectAll('text').attr('font-family', FONT).attr('font-size', 12.5).attr('fill', '#000').attr('text-anchor', 'start').attr('x', 2).attr('y', 12).attr('dy', 0)
      .attr('font-weight', (_, k) => (k === 0 ? 'bold' : 'normal'));

    // value tags on the right
    const tag = (x0: number, x1: number, yc: number, h: number, fill: string, txt: string, color: string, pointed: boolean, tx: number, size = 12.5) => {
      const p = d3.path();
      if (pointed) {
        p.moveTo(x0, yc);
        p.lineTo(x0 + 6, yc - h / 2);
      } else {
        p.moveTo(x0, yc - h / 2);
      }
      p.lineTo(x1, yc - h / 2);
      p.lineTo(x1, yc + h / 2);
      if (pointed) p.lineTo(x0 + 6, yc + h / 2);
      else p.lineTo(x0, yc + h / 2);
      p.closePath();
      svg.append('path').attr('d', p.toString()).attr('fill', fill);
      svg.append('text').attr('x', tx).attr('y', yc + size * 0.36).attr('font-family', FONT).attr('font-size', size).attr('fill', color).text(txt);
    };
    tag(894, 933, y(closes[101]), 15, '#000', '26.3', '#fff', true, 905);
    tag(901, 952, y(cloudFast[101]), 15, '#ff00ff', '25.7402', '#222', false, 905);
    tag(901, 952, y(cloudSlow[101]), 15, '#00ffff', '23.3089', '#222', false, 905);
    tag(901, 940, y(supportTail[6]), 15, '#ff00ff', '21.82', '#222', false, 905);
    tag(894, 952, volY(volumes[101]), 15, '#008000', '4,056,900', '#fff', true, 902, 13);
    // this tag is pushed down so it does not sit on the volume tag
    tag(901, 952, volY(volumeMA[101]) + 7.3, 13, '#ff00ff', '2,548,640', '#222', false, 902, 13);
    tag(894, 916, safeY(safety[101]), 14.5, '#0000ff', '9', '#fff', true, 906);

    // panel frames
    const frame = svg.append('g').attr('stroke', '#000').attr('stroke-width', 1.5);
    frame.append('line').attr('x1', 893).attr('x2', 893).attr('y1', 27).attr('y2', 673);
    frame.append('line').attr('x1', 2).attr('x2', 898).attr('y1', 517.7).attr('y2', 517.7);
    frame.append('line').attr('x1', 0).attr('x2', 952).attr('y1', 535.3).attr('y2', 535.3);
    frame.append('line').attr('x1', 0).attr('x2', 952).attr('y1', 599.3).attr('y2', 599.3);
    frame.append('line').attr('x1', 0).attr('x2', 952).attr('y1', 672.3).attr('y2', 672.3);
    svg.append('line').attr('x1', 1.5).attr('x2', 1.5).attr('y1', 27).attr('y2', 673).attr('stroke', '#8a8a80').attr('stroke-width', 1.2);

    // the pole runs over the time axis line
    svg.append('rect').attr('x', 842).attr('y', 510).attr('width', 20).attr('height', 17).attr('fill', '#000');

    // tab bar
    svg.append('rect').attr('width', WIDTH).attr('height', 26).attr('fill', '#2b3a55');
    svg.append('rect').attr('y', 26).attr('width', WIDTH).attr('height', 1.5).attr('fill', '#fff3d0');
    const tabText = (tx: number, txt: string, color = '#d5dbe6', weight = 'normal', size = 14.2) =>
      svg.append('text').attr('x', tx).attr('y', 19).attr('font-family', FONT).attr('font-size', size).attr('font-weight', weight).attr('fill', color).text(txt);
    tabText(1, '(Daily)');
    tabNames.forEach((t, k) => {
      const ix = tabTextX[k] - 19;
      svg.append('rect').attr('x', ix).attr('y', 7).attr('width', 14).attr('height', 13).attr('fill', '#a9c8ea').attr('stroke', '#5f86b5');
      svg.append('path').attr('d', `M${ix + 1},${19}L${ix + 5},${14}L${ix + 9},${16}L${ix + 13},${10}V19Z`).attr('fill', '#4fa84f');
      tabText(tabTextX[k], t);
    });
    const tabGrad = svg.append('defs').append('linearGradient').attr('id', 'tab-grad').attr('x1', 0).attr('x2', 0).attr('y1', 0).attr('y2', 1);
    tabGrad.append('stop').attr('offset', 0).attr('stop-color', '#fffbe8');
    tabGrad.append('stop').attr('offset', 1).attr('stop-color', '#ffe6a8');
    svg.append('path').attr('d', 'M325,27V5Q325,3 327,3H451Q453,3 453,5V27Z').attr('fill', 'url(#tab-grad)');
    svg.append('rect').attr('x', 331).attr('y', 7).attr('width', 14).attr('height', 13).attr('fill', '#a9c8ea').attr('stroke', '#5f86b5');
    svg.append('path').attr('d', 'M332,19L336,14L340,16L344,10V19Z').attr('fill', '#4fa84f');
    tabText(349, 'TNG (Daily)', '#000', 'bold', 15);
    tabText(438, '×', '#555', 'normal', 15);
    svg.append('rect').attr('x', 806).attr('y', 9).attr('width', 5).attr('height', 5).attr('fill', '#e03a2a');
    svg.append('rect').attr('x', 811).attr('y', 7).attr('width', 5).attr('height', 5).attr('fill', '#f2b632');
    svg.append('rect').attr('x', 808).attr('y', 14).attr('width', 5).attr('height', 5).attr('fill', '#4fae4f');
    tabText(823, 'Analysis1');
    svg.append('path').attr('d', 'M899,13H908M903.5,8.5V17.5').attr('stroke', '#7d8796').attr('stroke-width', 3).attr('fill', 'none');
    svg.append('path').attr('d', 'M924,8L919,13L924,18Z M934,8L939,13L934,18Z').attr('fill', '#c9cfd9');
    svg.append('path').attr('d', 'M944,10H952L948,15Z').attr('fill', '#c9cfd9');
  }, []);

  return <svg ref={svgRef} width={WIDTH} height={HEIGHT} style={{ position: 'absolute', left: 0, top: 0 }} />;
};

export default App;
